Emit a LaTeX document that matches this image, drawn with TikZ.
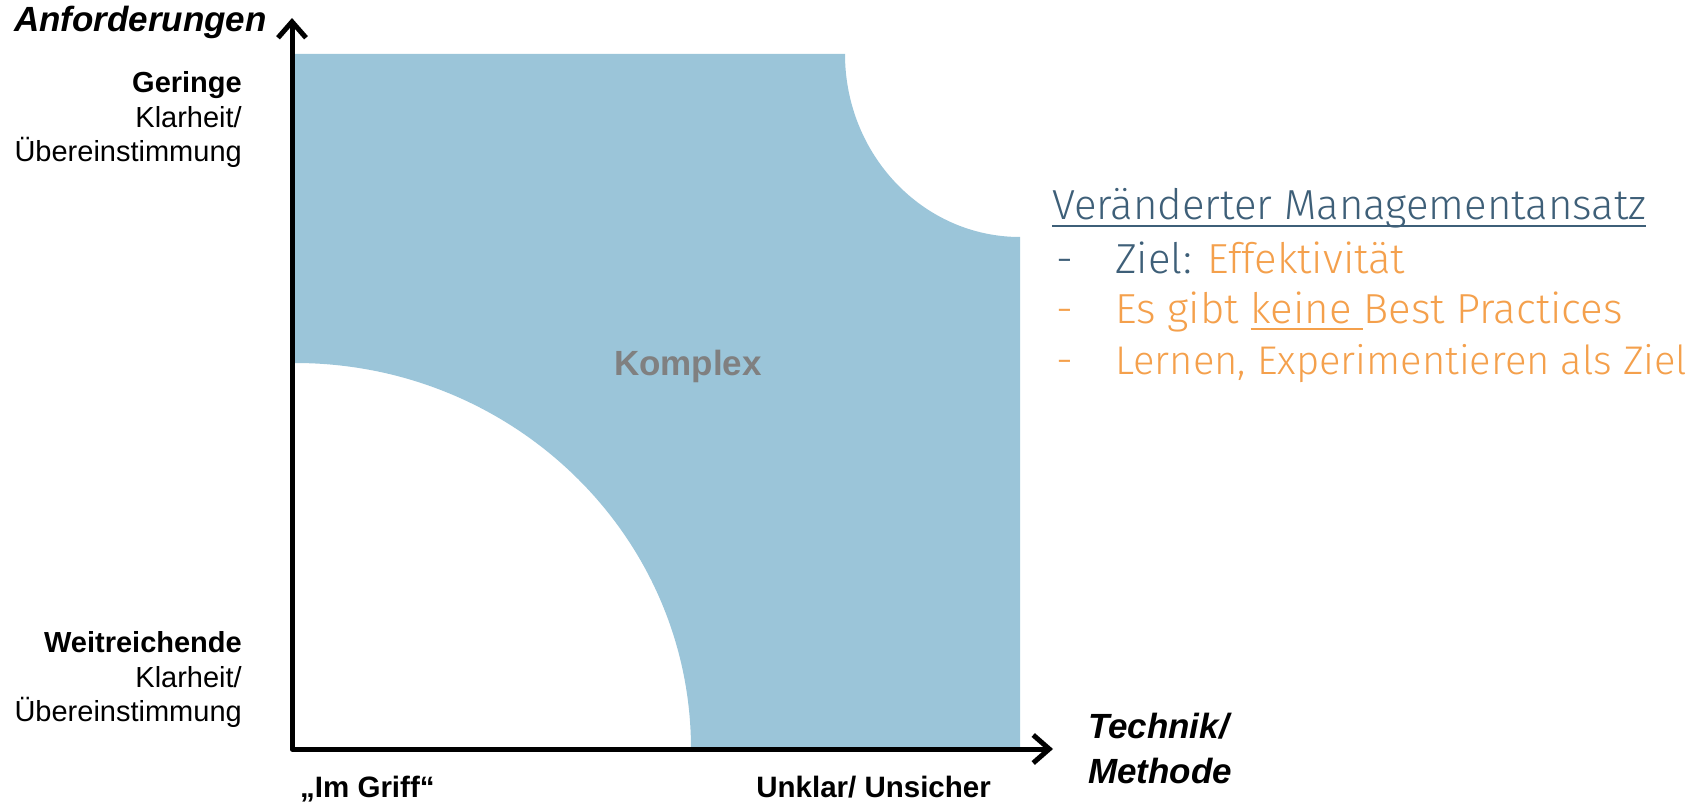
\documentclass[tikz,border=0pt]{standalone}
\usepackage{fontspec}
\setmainfont{Liberation Sans}
\newfontfamily\handschrift{Fira Sans Light}
\usetikzlibrary{arrows.meta,positioning}

\definecolor{feldblau}{RGB}{155,197,217}
\definecolor{tintenblau}{RGB}{62,95,120}
\definecolor{tintenorange}{RGB}{244,160,76}
\definecolor{schriftgrau}{RGB}{128,128,128}

\newcommand{\unterstrichen}[1]{\setbox0\hbox{#1}\rlap{\raisebox{-7pt}{\rule{\wd0}{2.2pt}}}\box0}

\tikzset{
  achse/.style={line width=5pt, line join=round,
    {Straight Barb[length=16pt,width=28pt]}-{Straight Barb[length=16pt,width=28pt]}},
  achsentitel/.style={inner sep=0pt, font=\fontsize{35}{44}\selectfont\bfseries\itshape},
  stufe/.style={inner sep=0pt, anchor=base east, font=\fontsize{29}{35}\selectfont},
  stufefett/.style={stufe, font=\fontsize{29}{35}\selectfont\bfseries},
  pol/.style={inner sep=0pt, font=\fontsize{29.5}{35}\selectfont\bfseries},
  notiz/.style={inner sep=0pt, anchor=base west, font=\fontsize{42}{50}\selectfont\handschrift},
}

\begin{document}
\begin{tikzpicture}[x=1pt,y=-1pt]
    \useasboundingbox (0,0) rectangle (1698,805);
    % Feld
    \fill[feldblau] (295,363) -- (295,54) -- (845,54)
      arc[start angle=180, end angle=270, x radius=175pt, y radius=183pt]
      -- (1020,749) -- (691,749)
      arc[start angle=0, end angle=90, x radius=396pt, y radius=386pt] -- cycle;
    \node[font=\fontsize{35}{42}\selectfont\bfseries, text=schriftgrau] (komplex) at (688,366) {Komplex};
    % Achsen
    \coordinate (ursprung) at (292,749);
    \coordinate (ytip) at (292,18);
    \coordinate (xtip) at (1053,749);
    \draw[achse] (ytip) -- (ursprung) -- (xtip);
    \node[achsentitel, anchor=base east] (anforderungen) at (267,32) {Anforderungen};
    \node[achsentitel, anchor=base west] (technik) at (1088,738) {Technik/};
    \node[achsentitel, anchor=base west] (methode) at (1088,783) {Methode};
    % Stufen
    \node[stufefett] (geringe) at (242,93) {Geringe};
    \node[stufe] (geringeklar) at (242,128) {Klarheit/};
    \node[stufe] (geringeueber) at (242,162) {Übereinstimmung};
    \node[stufefett] (weit) at (242,652) {Weitreichende};
    \node[stufe] (weitklar) at (242,687) {Klarheit/};
    \node[stufe] (weitueber) at (242,721) {Übereinstimmung};
    \node[pol, anchor=base west] (imgriff) at (300,797) {„Im Griff“};
    \node[pol, anchor=base east] (unklar) at (991,797) {Unklar/ Unsicher};
    % Notiz
    \node[notiz, text=tintenblau] (ansatz) at (1052,220) {\unterstrichen{Veränderter Managementansatz}};
    \node[notiz, text=tintenblau] (strichA) at (1056,273) {-};
    \node[notiz] (punktA) at (1115,273) {\textcolor{tintenblau}{Ziel:} \textcolor{tintenorange}{Effektivität}};
    \node[notiz, text=tintenorange] (strichB) at (1056,323) {-};
    \node[notiz, text=tintenorange] (punktB) at (1115,323) {Es gibt \unterstrichen{keine }Best Practices};
    \node[notiz, text=tintenorange] (strichC) at (1056,374) {-};
    \node[notiz, text=tintenorange, font=\fontsize{40}{50}\selectfont\handschrift] (punktC) at (1115,374) {Lernen, Experimentieren als Ziel};
\end{tikzpicture}
\end{document}
